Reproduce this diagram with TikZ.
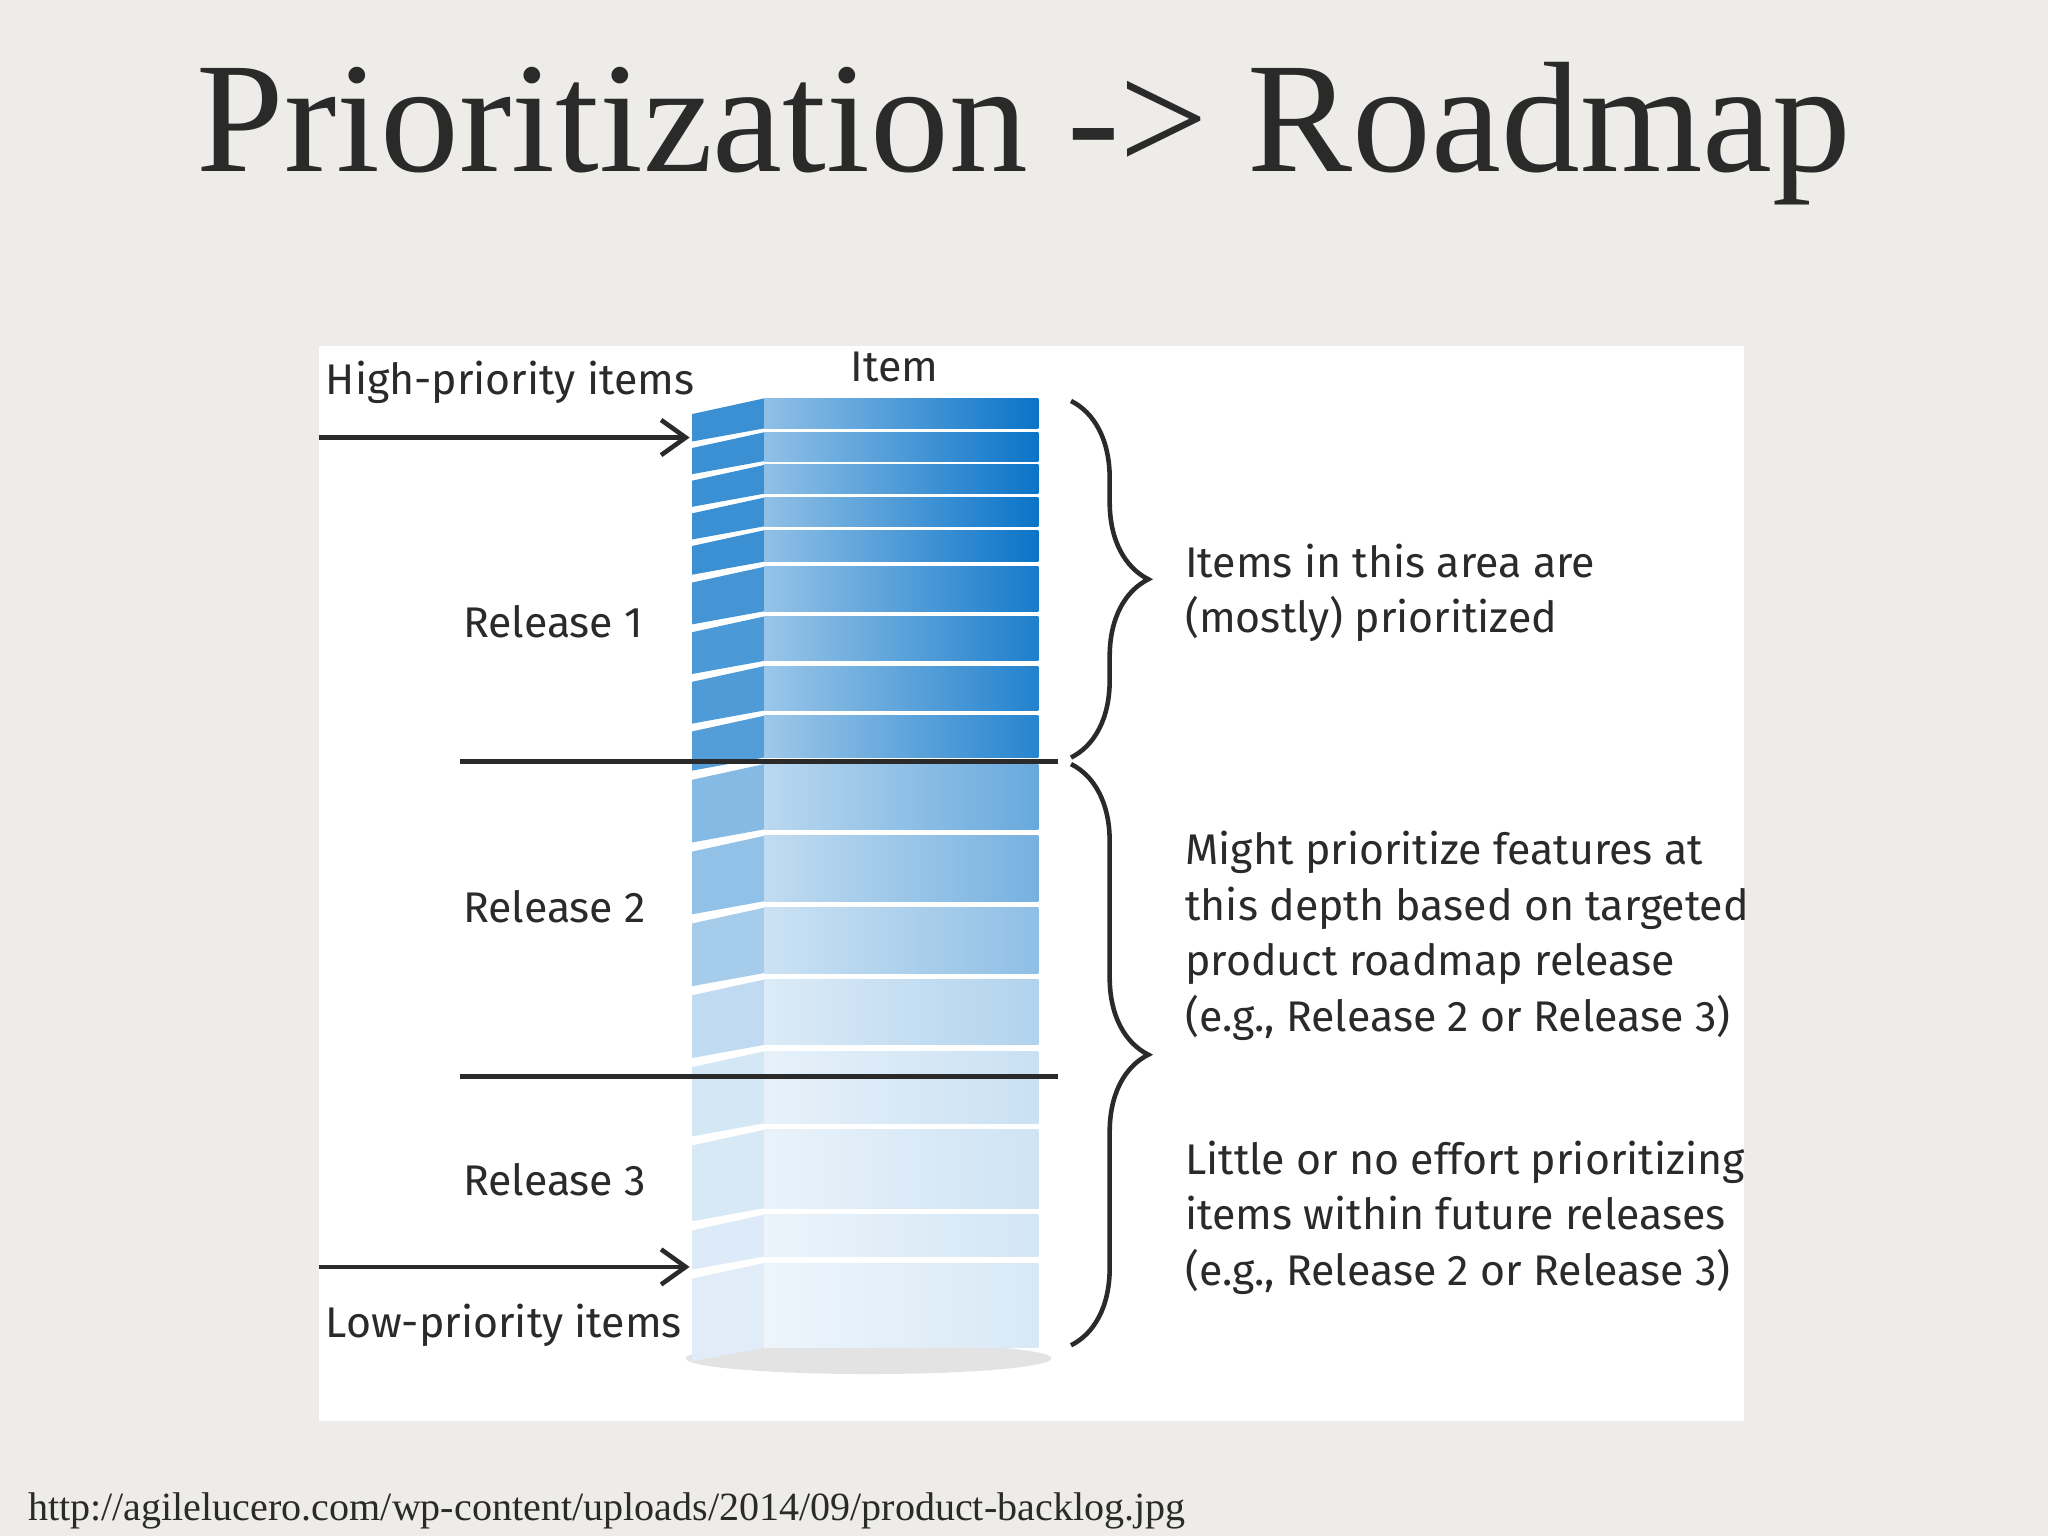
\documentclass[tikz,border=0pt]{standalone}
\usepackage{fontspec}
\setmainfont{Liberation Serif}
\newfontfamily\hand{Fira Sans}
\usetikzlibrary{decorations.pathreplacing,arrows.meta}
\definecolor{bg}{HTML}{EEECE8}
\definecolor{blu}{HTML}{0A74C8}
\definecolor{ink}{HTML}{2A2A2A}
\tikzset{lab/.style={font=\hand\fontsize{12.2}{15.8}\selectfont,text=ink,align=left,anchor=west},
 divline/.style={draw=ink,line width=1.3pt},
 arr/.style={draw=ink,line width=1.3pt,-{Straight Barb[length=7pt,width=10pt]}},
 brc/.style={draw=ink,line width=1.3pt,decorate,decoration={brace,amplitude=22pt,aspect=#1}}}
\begin{document}
\begin{tikzpicture}[x=0.013061cm,y=-0.013061cm]
\fill[bg] (0,0) rectangle (1568,1176);
\useasboundingbox (0,0) rectangle (1568,1176);
\node[font=\fontsize{44.8}{50}\selectfont,text=ink] (title) at (784,102) {Prioritization -> Roadmap};
\fill[white] (244,265) rectangle (1335,1088);
\fill[gray!22] (665,1040) ellipse (140 and 12);
\foreach \t/\b/\i in {305/328/100,331/353/100,356/378/100,381/403/100,406/430/100,434/468/95,472/506/92,510/544/90,548/580/88,
585/635/62,640/690/56,695/745/46,750/800/32,805/860/22,865/925/20,930/962/18,967/1032/16}{
  \pgfmathsetmacro\l{\i*0.45}
  \pgfmathsetmacro\s{\i*0.8}
  \fill[blu!\s] (530,\t+12) -- (585,\t) -- (585,\b) -- (530,\b+10) -- cycle;
  \shade[left color=blu!\l,right color=blu!\i] (585,\t) rectangle (795,\b);
}
\draw[divline] (352,583) -- (810,583);
\draw[divline] (352,824) -- (810,824);
\coordinate (hs) at (244,335); \coordinate (he) at (528,335);
\coordinate (ls) at (244,970); \coordinate (le) at (528,970);
\draw[arr] (hs) -- (he);
\draw[arr] (ls) -- (le);
\node[lab] (hp) at (240,293) {High-priority items};
\node[lab] (it) at (642,281) {Item};
\node[lab] (r1) at (345,476) {Release 1};
\node[lab] (r2) at (345,694) {Release 2};
\node[lab] (r3) at (345,903) {Release 3};
\node[lab] (lp) at (240,1015) {Low-priority items};
\coordinate (b1t) at (820,307); \coordinate (b1b) at (820,580);
\coordinate (b2t) at (820,585); \coordinate (b2b) at (820,1030);
\draw[brc=0.5] (b1t) -- (b1b);
\draw[brc=0.5] (b2t) -- (b2b);
\node[lab,anchor=north west] (t1) at (898,407) {Items in this area are\\(mostly) prioritized};
\node[lab,anchor=north west] (t2) at (898,627) {Might prioritize features at\\this depth based on targeted\\product roadmap release\\(e.g., Release 2 or Release 3)};
\node[lab,anchor=north west] (t3) at (898,864) {Little or no effort prioritizing\\items within future releases\\(e.g., Release 2 or Release 3)};
\node[anchor=west,font=\fontsize{11.4}{14}\selectfont,text=ink] (url) at (12,1157) {http://agilelucero.com/wp-content/uploads/2014/09/product-backlog.jpg};
\end{tikzpicture}
\end{document}
